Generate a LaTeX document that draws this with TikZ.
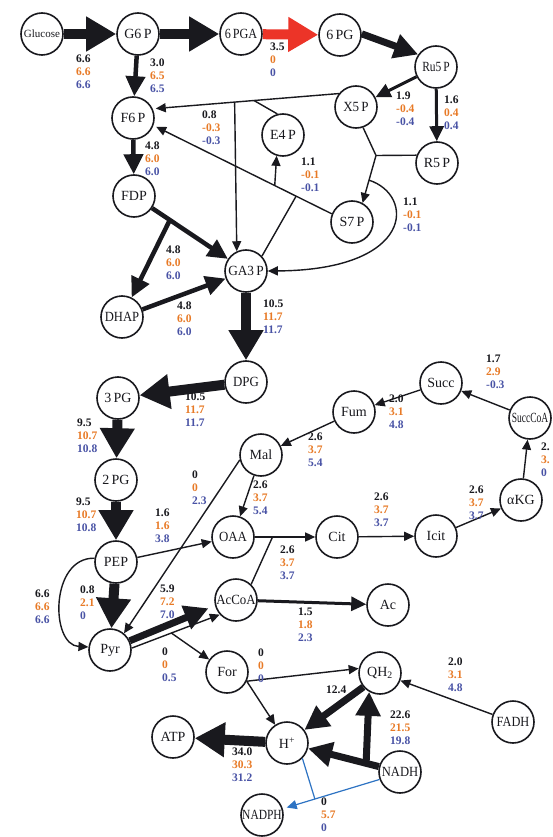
\documentclass[tikz,border=0pt]{standalone}
\usepackage{fontspec}
\setmainfont{Liberation Serif}
\usetikzlibrary{arrows.meta,calc}
\definecolor{orng}{RGB}{232,122,38}
\definecolor{blu}{RGB}{72,82,165}
\definecolor{ink}{RGB}{25,25,30}
\definecolor{redarr}{RGB}{236,52,40}
\definecolor{bluarr}{RGB}{45,115,195}
\newcommand{\flx}[3]{#1\\\textcolor{orng}{#2}\\\textcolor{blu}{#3}}
\newcommand{\hs}[2]{\scalebox{#1}[1]{#2}}
\begin{document}
\begin{tikzpicture}[x=1pt,y=-1pt,
  met/.style={circle,draw=ink,fill=white,line width=1.6pt,minimum size=42pt,inner sep=0pt,font=\fontsize{14}{14}\selectfont,text=ink},
  lab/.style={anchor=west,align=left,inner sep=0pt,font=\bfseries\fontsize{11.5}{13}\selectfont,text=ink},
  ln/.style={draw=ink,line width=1.4pt},
  a1/.style={ln,-{Triangle[length=10pt,width=9pt]}},
  a2/.style={draw=ink,line width=3pt,-{Triangle[length=15pt,width=14pt]}},
  a3/.style={draw=ink,line width=4.5pt,-{Triangle[length=20pt,width=19pt]}},
  a4/.style={draw=ink,line width=7pt,-{Triangle[length=24pt,width=24pt]}},
  a5/.style={draw=ink,line width=10pt,-{Triangle[length=30pt,width=33pt]}},
  bl/.style={draw=bluarr,line width=1.2pt},
  b1/.style={bl,-{Triangle[length=10pt,width=9pt]}}
]
\useasboundingbox (0,0) rectangle (552,837);
\fill[white] (0,0) rectangle (552,837);

% metabolites
\node[met,font=\fontsize{11}{11}\selectfont] (glc) at (42,34) {Glucose};
\node[met] (g6p) at (138,34) {G6\,P};
\node[met] (pga6) at (241,34) {\hs{0.87}{6\,PGA}};
\node[met] (pg6) at (340,35) {6\,PG};
\node[met] (ru5p) at (436,67) {\hs{0.82}{Ru5\,P}};
\node[met] (x5p) at (356,107) {\hs{0.93}{X5\,P}};
\node[met] (r5p) at (437,163) {R5\,P};
\node[met] (f6p) at (133,118) {F6\,P};
\node[met] (e4p) at (283,135) {E4\,P};
\node[met] (s7p) at (352,222) {S7\,P};
\node[met] (fdp) at (134,196) {FDP};
\node[met] (ga3p) at (246,271) {\hs{0.95}{GA3\,P}};
\node[met] (dhap) at (122,317) {\hs{0.9}{DHAP}};
\node[met] (dpg) at (246,382) {\hs{0.92}{DPG}};
\node[met] (pg3) at (118,398) {3\,PG};
\node[met] (pg2) at (116,480) {2\,PG};
\node[met] (pep) at (116,562) {PEP};
\node[met] (pyr) at (110,650) {Pyr};
\node[met] (mal) at (261,455) {Mal};
\node[met] (oaa) at (233,537) {\hs{0.92}{OAA}};
\node[met] (accoa) at (236,600) {\hs{0.92}{AcCoA}};
\node[met] (cit) at (337,537) {Cit};
\node[met] (icit) at (436,536) {Icit};
\node[met] (akg) at (521,500) {αKG};
\node[met] (succcoa) at (530,418) {\hs{0.68}{SuccCoA}};
\node[met] (succ) at (441,383) {Succ};
\node[met] (fum) at (354,412) {Fum};
\node[met] (ac) at (388,605) {Ac};
\node[met] (form) at (227,672) {For};
\node[met] (qh2) at (380,673) {QH\textsubscript{2}};
\node[met] (fadh) at (513,722) {\hs{0.88}{FADH}};
\node[met] (hplus) at (287,743) {H\textsuperscript{+}};
\node[met] (nadh) at (400,772) {\hs{0.9}{NADH}};
\node[met] (atp) at (173,737) {ATP};
\node[met] (nadph) at (262,815) {\hs{0.82}{NADPH}};

% upper glycolysis / oxidative PPP
\draw[a5] (glc) -- (g6p);
\draw[a5] (g6p) -- (pga6);
\draw[a5,draw=redarr] (pga6) -- (pg6);
\draw[a4] (pg6.3) -- (ru5p.145);
\draw[a3] (g6p) -- (f6p);
\draw[a2] (ru5p) -- (x5p);
\draw[a2] (ru5p) -- (r5p);
\draw[a3] (f6p) -- (fdp);

% transketolase 1
\coordinate (tka) at ($(x5p.142)!0.56!(f6p.25)$);
\coordinate (tkb) at ($(x5p.142)!0.456!(f6p.25)$);
\draw[a1,shorten >=3pt] (x5p.142) -- (f6p.25);
\draw[a1] (tka) -- (ga3p.115);
\draw[ln] (e4p.105) -- (tkb);

% transaldolase
\coordinate (taa) at ($(s7p.158)!0.32!(f6p.-20)$);
\coordinate (tab) at ($(s7p.158)!0.2!(f6p.-20)$);
\draw[a1,shorten >=3pt] (s7p.158) -- (f6p.-20);
\draw[a1] (taa) -- (e4p.253);
\draw[ln] (ga3p.43) -- (tab);

% transketolase 2
\coordinate (tkc) at (376,155.5);
\draw[ln] (x5p.-71) -- (tkc);
\draw[ln] (r5p.159) -- (tkc);
\draw[a1] (tkc) -- (s7p.61);
\coordinate (tkd) at ($(tkc)!0.52!(s7p.61)$);
\draw[a1] (tkd) .. controls (415,195) and (415,270) .. (ga3p.east);

% lower glycolysis
\coordinate (fj) at ($(fdp)!0.32!(ga3p)$);
\draw[a3] (fdp) -- (ga3p);
\draw[a3] (fj) -- (dhap);
\draw[a3] (dhap) -- (ga3p);
\draw[a5] (ga3p) -- (dpg);
\draw[a5] (dpg) -- (pg3);
\draw[a5] (pg3) -- (pg2);
\draw[a5] (pg2) -- (pep);
\draw[a5] (pep) -- (pyr);
\draw[a1] (pep.170) .. controls (50,557) and (50,645) .. (pyr.172);

% TCA and anaplerosis
\draw[a1] (pep) -- (oaa);
\draw[a1] (mal.193) -- (pyr.50);
\draw[a1] (mal) -- (oaa);
\draw[a1] (fum) -- (mal);
\draw[a1] (succ) -- (fum);
\draw[a1] (succcoa) -- (succ);
\draw[a1] (akg) -- (succcoa);
\draw[a1] (icit) -- (akg);
\draw[a1] (cit) -- (icit);
\draw[a1] (oaa) -- (cit);
\coordinate (cj) at ($(oaa)!0.38!(cit)$);
\draw[ln] (accoa.46) -- (cj);
\draw[a2] (accoa) -- (ac);
\draw[a4,shorten >=7pt] (pyr.25) -- (accoa.195);
\draw[a1] (pyr.5) -- (accoa.222);
\coordinate (pj) at ($(pyr.5)!0.45!(accoa.222)$);
\draw[a1] (pj) -- (form);

% respiration
\draw[a1] (form.-25) -- (qh2.168);
\draw[a1] (form.-25) -- (hplus);
\draw[a4] (qh2.220) -- (hplus.37);
\coordinate (nj) at ($(nadh)!0.3!(hplus)$);
\draw[a4] (nadh) -- (hplus);
\draw[a4] (nj) -- (qh2.240);
\draw[a1] (fadh) -- (qh2);
\draw[a5] (hplus) -- (atp);
\draw[b1,shorten >=4pt] (nadh.200) -- (nadph);
\coordinate (bj) at ($(nadh.200)!0.55!(nadph)$);
\draw[bl] (hplus.-45) -- (bj);

% flux labels
\node[lab] (l1) at (76,72) {\flx{6.6}{6.6}{6.6}};
\node[lab] (l2) at (270,60) {\flx{3.5}{0}{0}};
\node[lab] (l3) at (150,76) {\flx{3.0}{6.5}{6.5}};
\node[lab] (l4) at (145,159) {\flx{4.8}{6.0}{6.0}};
\node[lab] (l5) at (202,128) {\flx{0.8}{-0.3}{-0.3}};
\node[lab] (l6) at (396,109) {\flx{1.9}{-0.4}{-0.4}};
\node[lab] (l7) at (444,113) {\flx{1.6}{0.4}{0.4}};
\node[lab] (l8) at (301,175) {\flx{1.1}{-0.1}{-0.1}};
\node[lab] (l9) at (403,215) {\flx{1.1}{-0.1}{-0.1}};
\node[lab] (l10) at (166,263) {\flx{4.8}{6.0}{6.0}};
\node[lab] (l11) at (177,319) {\flx{4.8}{6.0}{6.0}};
\node[lab] (l12) at (263,317) {\flx{10.5}{11.7}{11.7}};
\node[lab] (l13) at (185,410) {\flx{10.5}{11.7}{11.7}};
\node[lab] (l14) at (77,436) {\flx{9.5}{10.7}{10.8}};
\node[lab] (l15) at (76,515) {\flx{9.5}{10.7}{10.8}};
\node[lab] (l16) at (155,526) {\flx{1.6}{1.6}{3.8}};
\node[lab] (l17) at (192,488) {\flx{0}{0}{2.3}};
\node[lab] (l18) at (253,498) {\flx{2.6}{3.7}{5.4}};
\node[lab] (l19) at (308,450) {\flx{2.6}{3.7}{5.4}};
\node[lab] (l20) at (389,412) {\flx{2.0}{3.1}{4.8}};
\node[lab] (l21) at (486,372) {\flx{1.7}{2.9}{-0.3}};
\node[lab] (l22) at (541,460) {\flx{2.}{3.}{0}};
\node[lab] (l23) at (469,503) {\flx{2.6}{3.7}{3.7}};
\node[lab] (l24) at (374,510) {\flx{2.6}{3.7}{3.7}};
\node[lab] (l25) at (280,563) {\flx{2.6}{3.7}{3.7}};
\node[lab] (l26) at (298,625) {\flx{1.5}{1.8}{2.3}};
\node[lab] (l27) at (160,602) {\flx{5.9}{7.2}{7.0}};
\node[lab] (l28) at (80,603) {\flx{0.8}{2.1}{0}};
\node[lab] (l29) at (35,607) {\flx{6.6}{6.6}{6.6}};
\node[lab] (l30) at (162,665) {\flx{0}{0}{0.5}};
\node[lab] (l31) at (258,666) {\flx{0}{0}{0}};
\node[lab] (l32) at (326,690) {12.4};
\node[lab] (l33) at (390,728) {\flx{22.6}{21.5}{19.8}};
\node[lab] (l34) at (448,675) {\flx{2.0}{3.1}{4.8}};
\node[lab] (l35) at (232,765) {\flx{34.0}{30.3}{31.2}};
\node[lab] (l36) at (321,815) {\flx{0}{5.7}{0}};
\end{tikzpicture}
\end{document}
